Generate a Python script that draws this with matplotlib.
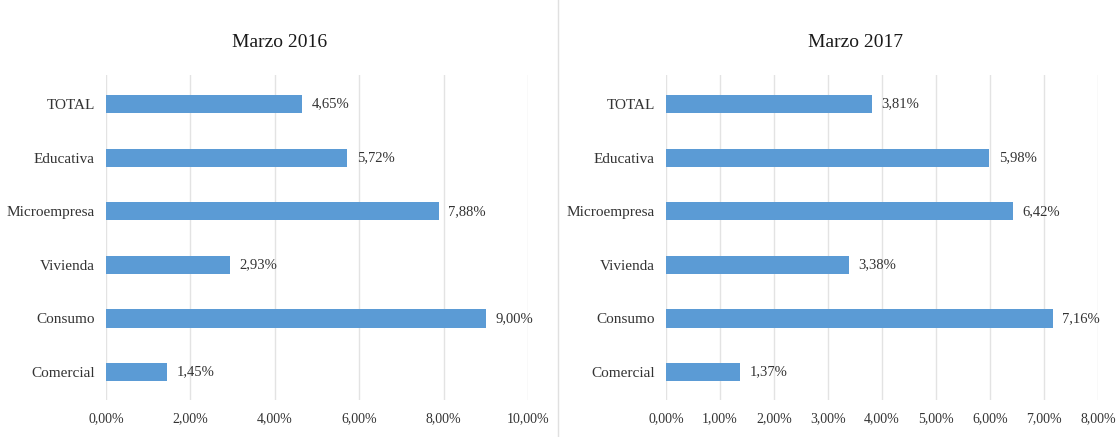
import matplotlib.pyplot as plt
from matplotlib import ticker

# categories listed bottom to top
categories = ["Comercial", "Consumo", "Vivienda", "Microempresa", "Educativa", "TOTAL"]
values_2016 = [1.45, 9.00, 2.93, 7.88, 5.72, 4.65]
values_2017 = [1.37, 7.16, 3.38, 6.42, 5.98, 3.81]
titles = ["Marzo 2016", "Marzo 2017"]
xticks_2016 = [0, 2, 4, 6, 8, 10]
xticks_2017 = [0, 1, 2, 3, 4, 5, 6, 7, 8]

plt.rcParams['font.family'] = ['Liberation Serif', 'DejaVu Serif']
bar_color = "#5B9BD5"
grid_color = "#E3E3E3"
text_color = "#333333"


def pct(x, pos=None):
    return f"{x:.2f}%".replace(".", ",")


fig = plt.figure(figsize=(11.18, 4.37), dpi=100)
ax1 = fig.add_axes([0.0948, 0.085, 0.3775, 0.743])
ax2 = fig.add_axes([0.5957, 0.085, 0.3864, 0.743])

panels = [(ax1, values_2016, xticks_2016), (ax2, values_2017, xticks_2017)]
for ax, vals, xt in panels:
    y = range(len(categories))
    ax.barh(y, vals, height=0.34, color=bar_color, zorder=3)
    for yi, v in zip(y, vals):
        ax.annotate(pct(v), (v, yi), xytext=(7, 0), textcoords="offset points",
                    va="center", ha="left", fontsize=10.5, color=text_color)
    ax.set_yticks(list(y))
    ax.set_yticklabels(categories, fontsize=11, color=text_color)
    ax.set_ylim(-0.52, 5.54)
    ax.set_xticks(xt)
    ax.set_xlim(xt[0], xt[-1])
    ax.xaxis.set_major_formatter(ticker.FuncFormatter(pct))
    ax.tick_params(axis="x", labelsize=10, colors=text_color, length=0, pad=9)
    ax.tick_params(axis="y", length=0, pad=8)
    ax.grid(axis="x", color=grid_color, linewidth=1, zorder=0)
    for s in ax.spines.values():
        s.set_visible(False)

fig.text(0.25, 0.903, titles[0], ha="center", va="center", fontsize=14, color="#1a1a1a")
fig.text(0.765, 0.903, titles[1], ha="center", va="center", fontsize=14, color="#1a1a1a")

# thin separator between the two charts
fig.add_artist(plt.Line2D([0.499, 0.499], [0.0, 1.0], color="#E0E0E0", linewidth=1))

fig.savefig("out.png", dpi=100, facecolor="white")
